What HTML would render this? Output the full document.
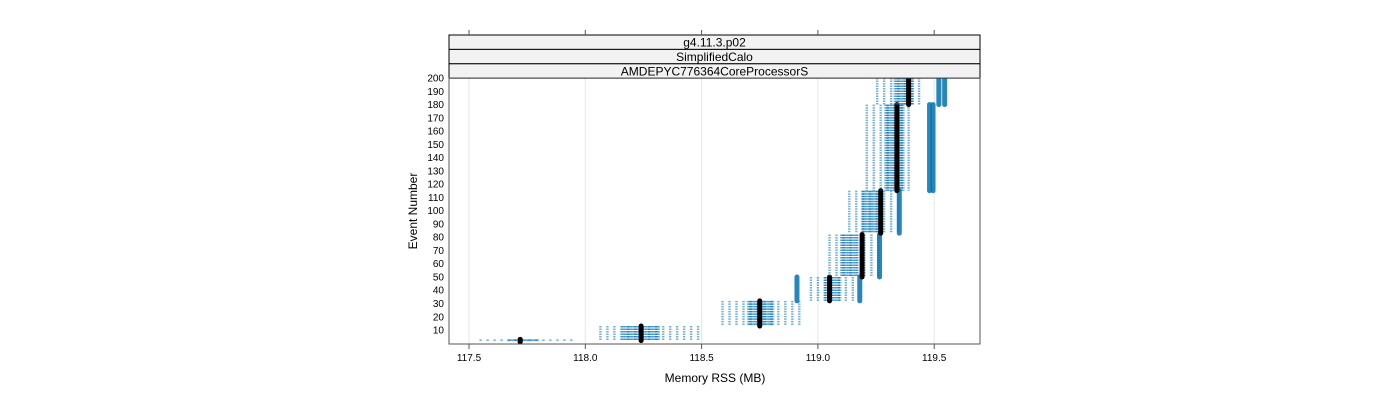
<!DOCTYPE html>
<html><head><meta charset="utf-8"><style>
body{margin:0;background:#fff;}
svg{display:block;font-family:"Liberation Sans",sans-serif;}
</style></head><body>
<svg id="chart" width="1400" height="400">
<g id="grid"></g>
<g id="marks"></g>
<g id="frame"></g>
</svg>
<script>
const blockLo = [117.55, 118.065, 118.59, 118.97, 119.05, 119.135, 119.21, 119.255];
const blockHi = [117.94, 118.5, 118.93, 119.17, 119.26, 119.345, 119.41, 119.46];
const denseLo = [117.67, 118.16, 118.70, 119.03, 119.10, 119.19, 119.29, 119.33];
const denseHi = [117.80, 118.32, 118.81, 119.10, 119.17, 119.26, 119.37, 119.41];
const blockMean = [117.72, 118.24, 118.75, 119.05, 119.19, 119.27, 119.34, 119.39];
const eventStart = [1, 2, 13, 32, 50, 83, 115, 180];
const eventEnd = [3, 13, 32, 50, 82, 115, 180, 200];
const outlierX = [118.91, 119.18, 119.265, 119.35, 119.48, 119.495, 119.52, 119.545];
const outlierStart = [32, 32, 50, 83, 115, 115, 180, 180];
const outlierEnd = [50, 50, 82, 115, 180, 180, 200, 200];
const xTicks = [117.5, 118.0, 118.5, 119.0, 119.5];
const yTicks = [10,20,30,40,50,60,70,80,90,100,110,120,130,140,150,160,170,180,190,200];

const NS = "http://www.w3.org/2000/svg";
const L = 449, R = 980, T = 78, B = 344;
const xs = v => 469 + (v - 117.5) * 232.6;
const ys = v => 343.3 - v * (252 / 190);
function mk(tag, attrs, parent){const e=document.createElementNS(NS,tag);for(const k in attrs)e.setAttribute(k,attrs[k]);parent.appendChild(e);return e;}
const svg = document.getElementById('chart');
const grid = document.getElementById('grid'), marks = document.getElementById('marks'), frame = document.getElementById('frame');

xTicks.forEach(t => {
  const g = mk('line',{x1:xs(t),x2:xs(t),y1:T,y2:B,stroke:'#e6e6e6','stroke-width':1},grid);
  
  
});

function column(x, e0, e1, op, parent){
  const ln = mk('line',{x1:xs(x),x2:xs(x),y1:ys(e1),y2:ys(e0),stroke:'#0072b2','stroke-width':2.4,'stroke-dasharray':'1.5 1','stroke-opacity':op},parent);
  
  
}
blockLo.forEach((lo, i) => {
  const g = mk('g',{},marks);
  
  
  for (let x = lo; x <= blockHi[i] + 1e-9; x += 0.03) column(x, eventStart[i], eventEnd[i], 0.55, g);
  for (let x = denseLo[i]; x <= denseHi[i] + 1e-9; x += 0.006) column(x, eventStart[i], eventEnd[i], 0.5, g);
  const ox = outlierX[i];
  const o = mk('line',{x1:xs(ox),x2:xs(ox),y1:ys(outlierEnd[i]),y2:ys(outlierStart[i]),stroke:'#0072b2','stroke-width':5,'stroke-linecap':'round','stroke-opacity':0.85},g);
  
  
  const m = mk('line',{x1:xs(blockMean[i]),x2:xs(blockMean[i]),y1:ys(eventEnd[i]),y2:ys(eventStart[i]),stroke:'#000','stroke-width':5,'stroke-linecap':'round'},g);
  
  
});

// frame & strips
const strips = ['g4.11.3.p02','SimplifiedCalo','AMDEPYC776364CoreProcessorS'];
strips.forEach((s, i) => {
  const y0 = 35 + i * 14.4;
  const r = mk('rect',{x:L,y:y0,width:R-L,height:14.4,fill:'#f2f2f2',stroke:'#000','stroke-width':1},frame);
  
  
  const t = mk('text',{x:(L+R)/2,y:y0+11.5,'text-anchor':'middle','font-size':12,fill:'#000'},frame);
  t.textContent = s;
  
  
});
const pf = mk('rect',{x:L,y:T,width:R-L,height:B-T,fill:'none',stroke:'#555','stroke-width':1},frame);



xTicks.forEach(t => {
  const a = mk('line',{x1:xs(t),x2:xs(t),y1:B,y2:B+5,stroke:'#555'},frame);
  
  
  const b = mk('line',{x1:xs(t),x2:xs(t),y1:30,y2:35,stroke:'#555'},frame);
  
  
  const l = mk('text',{x:xs(t),y:361,'text-anchor':'middle','font-size':10,fill:'#000'},frame);
  l.textContent = t.toFixed(1);
  
  
});
yTicks.forEach(t => {
  const l = mk('text',{x:444,y:ys(t)+3.5,'text-anchor':'end','font-size':10,fill:'#000'},frame);
  l.textContent = t;
  
  
});
const xt = mk('text',{x:715,y:382,'text-anchor':'middle','font-size':12,fill:'#000'},frame);
xt.textContent = 'Memory RSS (MB)';


const yt = mk('text',{x:417,y:211,'text-anchor':'middle','font-size':12,fill:'#000',transform:'rotate(-90 417 211)'},frame);
yt.textContent = 'Event Number';


</script>
</body></html>
